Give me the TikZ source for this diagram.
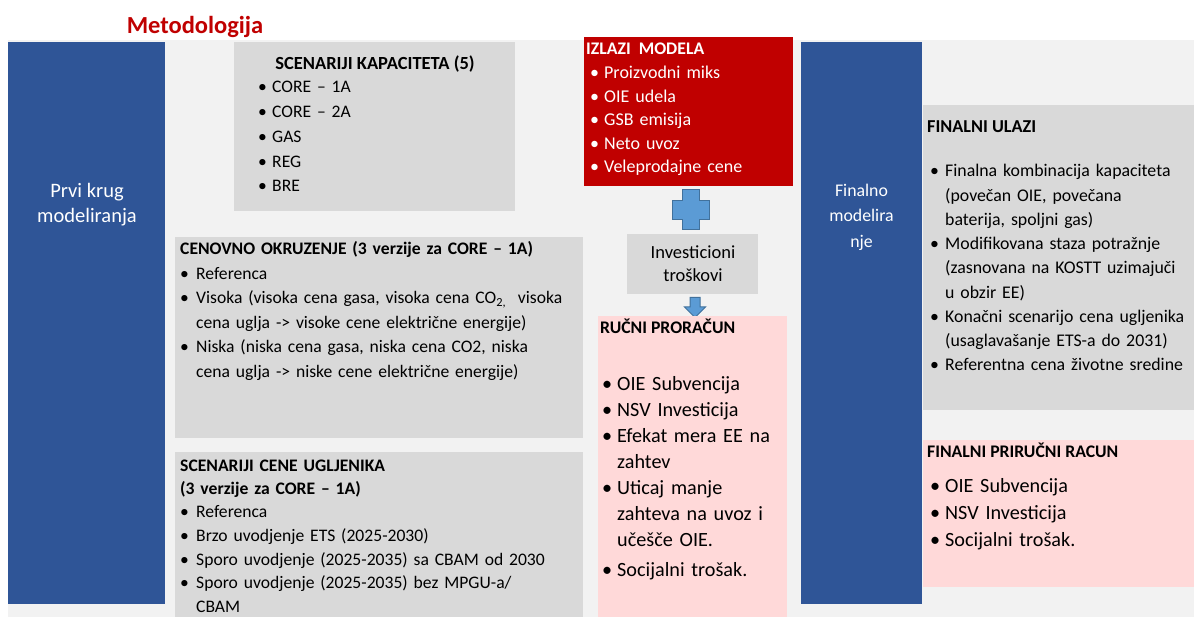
\documentclass[tikz,border=0pt]{standalone}
\usepackage{fontspec}
\setmainfont{Carlito}
\usepackage{tikz}
\usetikzlibrary{positioning}
\usetikzlibrary{arrows.meta}
\usetikzlibrary{shapes.arrows}

\definecolor{bluebox}{RGB}{47,85,151}
\definecolor{grayfill}{RGB}{217,217,217}
\definecolor{backfill}{RGB}{242,242,242}
\definecolor{redbox}{RGB}{192,0,0}
\definecolor{pinkfill}{RGB}{255,217,217}
\definecolor{plusfill}{RGB}{91,155,213}
\definecolor{plusline}{RGB}{65,113,156}

% bullet line and continuation line
\newcommand{\bl}[2][15pt]{\makebox[#1][l]{\textbullet}#2}
\newcommand{\cl}[2][15pt]{\hspace*{#1}#2}

\tikzset{
  panel/.style={inner sep=0pt, outer sep=0pt, anchor=north west},
  txt/.style={inner sep=0pt, anchor=base west, align=left, text width=#1},
  body/.style={font=\fontsize{17.6}{24.5}\selectfont},
  big/.style={font=\fontsize{20.2}{26}\selectfont},
  head/.style={font=\fontsize{17.7}{24}\selectfont\bfseries, inner sep=0pt},
}

\begin{document}
\begin{tikzpicture}[x=1pt, y=-1pt]
  \useasboundingbox (0,0) rectangle (1194,617);
  \node (back) [panel, fill=backfill, minimum width=1186, minimum height=577] at (8,40) {};
  \node (title) [font=\fontsize{24.5}{28}\selectfont\bfseries, text=redbox, inner sep=0pt] at (195,27) {Metodologija};

  % first round
  \node (firstrun) [panel, fill=bluebox, minimum width=157, minimum height=562] at (8,42) {};
  \node (firstrun-t) [font=\fontsize{20.5}{25}\selectfont, text=white, align=center, inner sep=0pt] at (87,205) {Prvi krug\\modeliranja};

  \node (cap) [panel, fill=grayfill, minimum width=281, minimum height=169] at (234,42) {};
  \node (cap-h) [head, font=\fontsize{18.5}{24}\selectfont\bfseries, anchor=base] at (375,70) {SCENARIJI KAPACITETA (5)};
  \node (cap-l) [txt=240pt, font=\fontsize{17.6}{24.7}\selectfont] at (258,93)
    {\bl[14pt]{CORE – 1A}\\ \bl[14pt]{CORE – 2A}\\ \bl[14pt]{GAS}\\ \bl[14pt]{REG}\\ \bl[14pt]{BRE}};

  \node (env) [panel, fill=grayfill, minimum width=408, minimum height=201] at (175,237) {};
  \node (env-l) [txt=400pt, body] at (180,255)
    {\textbf{CENOVNO OKRUZENJE (3 verzije za CORE – 1A)}\\
     \bl[16pt]{Referenca}\\
     \bl[16pt]{Visoka (visoka cena gasa, visoka cena CO\textsubscript{2,}\ \ visoka}\\
     \cl[16pt]{cena uglja -> visoke cene električne energije)}\\
     \bl[16pt]{Niska (niska cena gasa, niska cena CO2, niska}\\
     \cl[16pt]{cena uglja -> niske cene električne energije)}};

  \node (carbon) [panel, fill=grayfill, minimum width=408, minimum height=165] at (175,452) {};
  \node (carbon-l) [txt=400pt, font=\fontsize{17.6}{23.5}\selectfont] at (180,471)
    {\textbf{SCENARIJI CENE UGLJENIKA}\\
     \textbf{(3 verzije za CORE – 1A)}\\
     \bl[16pt]{Referenca}\\
     \bl[16pt]{Brzo uvodjenje ETS (2025-2030)}\\
     \bl[16pt]{Sporo uvodjenje (2025-2035) sa CBAM od 2030}\\
     \bl[16pt]{Sporo uvodjenje (2025-2035) bez MPGU-a/}\\
     \cl[16pt]{CBAM}};

  % model outputs
  \node (outputs) [panel, fill=redbox, minimum width=209, minimum height=149] at (584,37) {};
  \node (outputs-h) [head, anchor=base west, text=white] at (586,55) {IZLAZI\ \ MODELA};
  \node (outputs-l) [txt=190pt, font=\fontsize{18}{23.5}\selectfont, text=white] at (590,79)
    {\bl[14pt]{Proizvodni miks}\\ \bl[14pt]{OIE udela}\\ \bl[14pt]{GSB emisija}\\
     \bl[14pt]{Neto uvoz}\\ \bl[14pt]{Veleprodajne cene}};

  \coordinate (plus) at (691,210);
  \draw[fill=plusfill, draw=plusline, line width=1pt] (plus) ++(-8.5,-20) -- ++(17,0) -- ++(0,10.5)
    -- ++(10,0) -- ++(0,19) -- ++(-10,0) -- ++(0,10.5) -- ++(-17,0) -- ++(0,-10.5)
    -- ++(-10,0) -- ++(0,-19) -- ++(10,0) -- cycle;

  \node (invest) [panel, fill=grayfill, minimum width=131, minimum height=60] at (627,234) {};
  \node (invest-t) [align=center, inner sep=0pt, font=\fontsize{18.5}{23}\selectfont] at (693,264) {Investicioni\\troškovi};

  \node (down) [single arrow, rotate=-90, fill=plusfill, draw=plusline, line width=1pt,
        minimum height=20pt, inner sep=4.5pt, single arrow head extend=5.5pt,
        single arrow head indent=0pt] at (695,305) {};

  \node (manual) [panel, fill=pinkfill, minimum width=189, minimum height=301] at (598,316) {};
  \node (manual-h) [head, anchor=base west] at (600,334) {RUČNI PRORAČUN};
  \node (manual-l) [txt=185pt, big] at (602,391)
    {\bl{OIE Subvencija}\\ \bl{NSV Investicija}\\ \bl{Efekat mera EE na}\\ \cl{zahtev}\\
     \bl{Uticaj manje}\\ \cl{zahteva na uvoz i}\\ \cl{učešče OIE.}\\[4pt] \bl{Socijalni trošak.}};

  % final round
  \node (finalrun) [panel, fill=bluebox, minimum width=121, minimum height=562] at (801,42) {};
  \node (finalrun-t) [align=center, text=white, inner sep=0pt, font=\fontsize{17.8}{25.5}\selectfont] at (861.5,217) {Finalno\\modelira\\nje};

  \node (inputs) [panel, fill=grayfill, minimum width=271, minimum height=305] at (923,105) {};
  \node (inputs-h) [head, font=\fontsize{18.2}{24}\selectfont\bfseries, anchor=base west] at (927,133) {FINALNI ULAZI};
  \node (inputs-l) [txt=262pt, font=\fontsize{17.8}{24.25}\selectfont] at (930,177)
    {\bl{Finalna kombinacija kapaciteta}\\ \cl{(povečan OIE, povečana}\\ \cl{baterija, spoljni gas)}\\
     \bl{Modifikovana staza potražnje}\\ \cl{(zasnovana na KOSTT uzimajuči}\\ \cl{u obzir EE)}\\
     \bl{Konačni scenarijo cena ugljenika}\\ \cl{(usaglavašanje ETS-a do 2031)}\\
     \bl{Referentna cena životne sredine}};

  \node (calc) [panel, fill=pinkfill, minimum width=271, minimum height=147] at (923,440) {};
  \node (calc-h) [head, anchor=base west] at (927,457) {FINALNI PRIRUČNI RACUN};
  \node (calc-l) [txt=262pt, font=\fontsize{20.2}{27}\selectfont] at (930,492)
    {\bl{OIE Subvencija}\\ \bl{NSV Investicija}\\ \bl{Socijalni trošak.}};
\end{tikzpicture}
\end{document}
